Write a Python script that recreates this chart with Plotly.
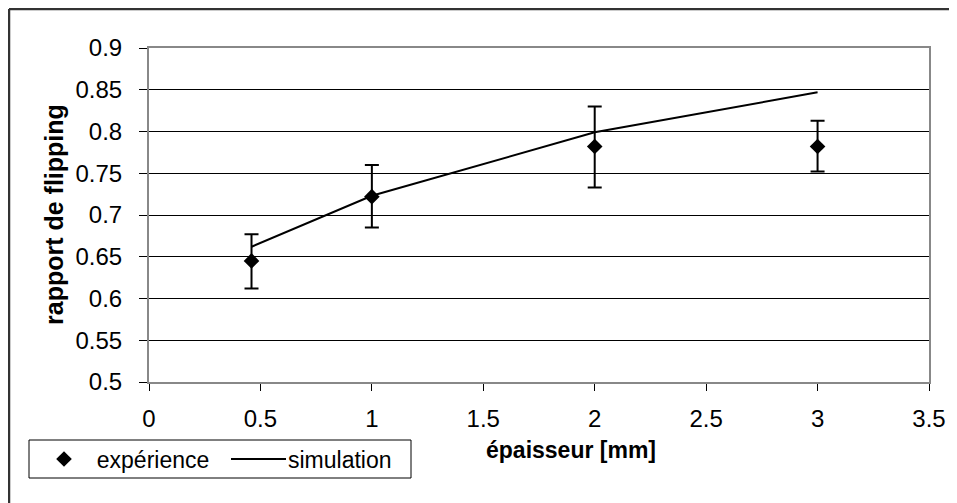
import plotly.graph_objects as go

# data
exp_x = [0.46, 1.0, 2.0, 3.0]
exp_y = [0.645, 0.722, 0.782, 0.782]
err_hi = [0.677, 0.760, 0.830, 0.813]
err_lo = [0.612, 0.685, 0.733, 0.752]
sim_x = [0.46, 1.0, 2.0, 3.0]
sim_y = [0.662, 0.723, 0.799, 0.847]
x_ticks = [0, 0.5, 1, 1.5, 2, 2.5, 3, 3.5]
y_ticks = [0.5, 0.55, 0.6, 0.65, 0.7, 0.75, 0.8, 0.85, 0.9]

FONT = "Liberation Sans, Arial, sans-serif"
FS = 23
FS_TICK = 24
NB = "\u00a0"

fig = go.Figure()
fig.add_trace(go.Scatter(
    x=exp_x, y=exp_y, mode="markers", name=NB * 2 + "expérience",
    marker=dict(symbol="diamond", size=12, color="black"),
    error_y=dict(type="data", symmetric=False,
                 array=[h - y for h, y in zip(err_hi, exp_y)],
                 arrayminus=[y - l for l, y in zip(err_lo, exp_y)],
                 color="black", thickness=2, width=7),
))
fig.add_trace(go.Scatter(
    x=sim_x, y=sim_y, mode="lines", name="simulation",
    line=dict(color="black", width=2),
))

# page offset of the figure inside the html body (default body margin)
OFF = 8
W, H = 957 - OFF, 503 - OFF
L, R, T, B = 149 - OFF, 28, 48 - OFF, 121
pw = W - L - R
ph = H - T - B


def px_x(p):
    return (p - OFF - L) / pw


def px_y(p):
    return (H - B - (p - OFF)) / ph


fig.update_layout(
    width=W, height=H,
    margin=dict(l=L, r=R, t=T, b=B),
    paper_bgcolor="white", plot_bgcolor="white",
    font=dict(family=FONT, size=FS, color="black"),
    showlegend=True,
    legend=dict(orientation="h", x=px_x(44), y=px_y(459), xanchor="left", yanchor="middle",
                borderwidth=0, bgcolor="rgba(0,0,0,0)",
                font=dict(family=FONT, size=FS), itemwidth=30, tracegroupgap=0,
                entrywidth=159, entrywidthmode="pixels"),
    xaxis=dict(range=[0, 3.5], tickvals=x_ticks, ticktext=[f"{v:g}" for v in x_ticks],
               showgrid=False, zeroline=False, showline=True, linecolor="#888888", linewidth=2,
               mirror=True, ticks="outside", ticklen=7, tickcolor="black", tickwidth=1,
               ticklabelstandoff=7, tickfont=dict(family=FONT, size=FS_TICK)),
    yaxis=dict(range=[0.5, 0.9], tickvals=y_ticks, ticktext=[f"{v:g}" for v in y_ticks],
               showgrid=True, gridcolor="black", gridwidth=1, zeroline=False,
               showline=True, linecolor="#888888", linewidth=2, mirror=True,
               ticks="outside", ticklen=8, tickcolor="black", tickwidth=1,
               ticklabelstandoff=12, tickfont=dict(family=FONT, size=FS_TICK)),
    annotations=[
        dict(text="<b>épaisseur [mm]</b>", xref="paper", yref="paper",
             x=px_x(571), y=px_y(450), xanchor="center", yanchor="middle",
             showarrow=False, font=dict(family=FONT, size=FS)),
        dict(text="<b>rapport de flipping</b>", xref="paper", yref="paper",
             x=px_x(54), y=0.5, xanchor="center", yanchor="middle", textangle=-90,
             showarrow=False, font=dict(family=FONT, size=25)),
    ],
    shapes=[
        # legend frame
        dict(type="rect", xref="paper", yref="paper", x0=px_x(29), x1=px_x(411),
             y0=px_y(440), y1=px_y(478), line=dict(color="black", width=1), layer="below"),
        # longer legend line sample for "simulation"
        dict(type="line", xref="paper", yref="paper", x0=px_x(231), x1=px_x(286),
             y0=px_y(459), y1=px_y(459), line=dict(color="black", width=2)),
        # chart-area frame (top and left edges visible)
        dict(type="line", xref="paper", yref="paper", x0=px_x(9), x1=px_x(957),
             y0=px_y(9), y1=px_y(9), line=dict(color="#333333", width=2.5)),
        dict(type="line", xref="paper", yref="paper", x0=px_x(9), x1=px_x(9),
             y0=px_y(9), y1=px_y(503), line=dict(color="#333333", width=2.5)),
    ],
)

fig.write_html("out.html")
